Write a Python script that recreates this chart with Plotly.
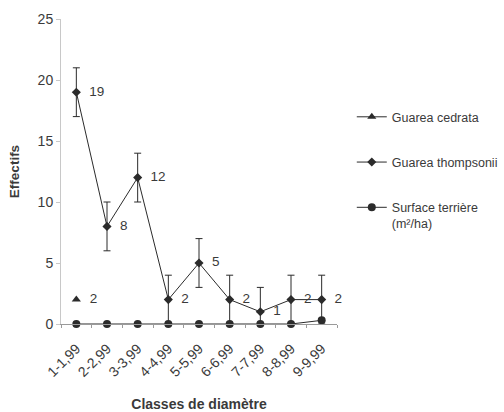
import plotly.graph_objects as go

categories = ["1-1,99", "2-2,99", "3-3,99", "4-4,99", "5-5,99", "6-6,99", "7-7,99", "8-8,99", "9-9,99"]
cedrata = [2, None, None, None, None, None, None, None, None]
thompsonii = [19, 8, 12, 2, 5, 2, 1, 2, 2]
thompsonii_err = [2, 2, 2, 2, 2, 2, 2, 2, 2]
surface = [0, 0, 0, 0, 0, 0, 0, 0, 0.3]

dark = "#2b2b2b"
txtc = "#3a3a3a"
font = "Liberation Sans, Arial, sans-serif"

def lab(vals):
    return ["  " + str(v) if v is not None else "" for v in vals]

fig = go.Figure()
fig.add_trace(go.Scatter(
    x=categories, y=cedrata, name="Guarea cedrata", mode="lines+markers+text",
    text=lab(cedrata), textposition="middle right",
    textfont=dict(size=13.5, color=txtc, family=font),
    line=dict(color=dark, width=1), marker=dict(symbol="triangle-up", size=8, color=dark),
    legendgroup="a", cliponaxis=False))
fig.add_trace(go.Scatter(
    x=categories, y=thompsonii, name="Guarea thompsonii", mode="lines+markers+text",
    text=lab(thompsonii), textposition="middle right",
    textfont=dict(size=13.5, color=txtc, family=font),
    error_y=dict(type="data", array=thompsonii_err, color=dark, thickness=1, width=3.5),
    line=dict(color=dark, width=1), marker=dict(symbol="diamond", size=7, color=dark),
    legendgroup="b", cliponaxis=False))
fig.add_trace(go.Scatter(
    x=categories, y=surface, name="Surface terrière<br>(m²/ha)", mode="lines+markers",
    line=dict(color=dark, width=1), marker=dict(symbol="circle", size=8, color=dark),
    legendgroup="c", cliponaxis=False))

fig.update_layout(
    width=504, height=412,
    margin=dict(l=61, r=167, t=19, b=88, autoexpand=False),
    paper_bgcolor="white", plot_bgcolor="white",
    font=dict(family=font, color=txtc, size=12),
    showlegend=True,
    legend=dict(xref="container", yref="container", x=0.698, y=0.752,
                xanchor="left", yanchor="top", traceorder="grouped",
                tracegroupgap=26, valign="top",
                font=dict(size=12.5, color=txtc, family=font), bgcolor="rgba(0,0,0,0)"),
    xaxis=dict(type="category", range=[-0.5, 8.5], tickangle=-45, showgrid=False,
               automargin=False,
               showline=True, linecolor="#9a9a9a", linewidth=1,
               ticks="outside", ticklen=3, tickcolor="#9a9a9a", tickson="boundaries",
               ticklabelstandoff=10,
               tickfont=dict(size=14, color=txtc), zeroline=False,
               title=dict(text="<b>Classes de diamètre</b>", font=dict(size=14, color=txtc), standoff=21)),
    yaxis=dict(range=[0, 25], dtick=5, showgrid=False, zeroline=False,
               automargin=False,
               showline=True, linecolor="#c8c8c8", linewidth=1,
               ticks="outside", ticklen=4, tickcolor="#c8c8c8",
               tickfont=dict(size=14, color=txtc),
               title=dict(text="<b>Effectifs</b>", font=dict(size=13.5, color=txtc), standoff=14)),
)

fig.write_html("out.html", config={"displayModeBar": False},
               post_script="document.body.style.margin='0';")
